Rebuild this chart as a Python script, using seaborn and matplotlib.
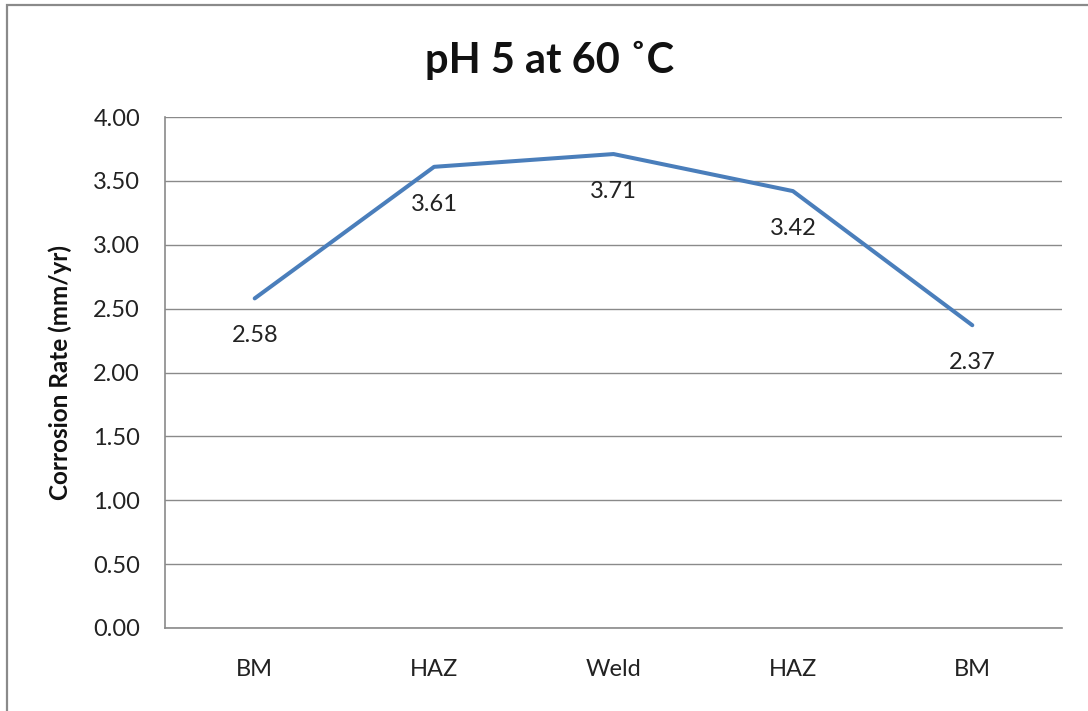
import matplotlib
matplotlib.use("Agg")
import matplotlib.pyplot as plt
import seaborn as sns
import numpy as np
from matplotlib.patches import Rectangle

categories = ["BM", "HAZ", "Weld", "HAZ", "BM"]
values = [2.58, 3.61, 3.71, 3.42, 2.37]
value_labels = ["2.58", "3.61", "3.71", "3.42", "2.37"]
yticks = [0.0, 0.5, 1.0, 1.5, 2.0, 2.5, 3.0, 3.5, 4.0]
title = "pH 5 at 60 ˚C"
ylabel = "Corrosion Rate (mm/yr)"

sns.set_theme(style="white")
plt.rcParams["font.family"] = ["Lato", "DejaVu Sans"]

fig = plt.figure(figsize=(10.88, 7.11), dpi=100)
ax = fig.add_axes([165/1088, 1-628/711, (1062-165)/1088, (628-117)/711])

pos = np.arange(len(categories))
sns.lineplot(x=pos, y=values, ax=ax, color="#4A7EBB", linewidth=2.9,
             solid_capstyle="round", solid_joinstyle="round", zorder=3)

for x, v, lab in zip(pos, values, value_labels):
    ax.annotate(lab, (x, v), xytext=(0, -27), textcoords="offset points",
                ha="center", va="center", fontsize=17, color="#222222")

ax.set_xlim(-0.5, len(categories) - 0.5)
ax.set_ylim(0, 4)
ax.set_yticks(yticks)
ax.set_yticklabels([f"{t:.2f}" for t in yticks], fontsize=17, color="#222222")
ax.set_xticks(pos)
ax.set_xticklabels(categories, fontsize=17, color="#222222")
ax.tick_params(axis="both", length=0)
ax.tick_params(axis="x", pad=22)
ax.tick_params(axis="y", pad=18)
ax.yaxis.grid(True, color="#8a8a8a", linewidth=1.0)
ax.set_axisbelow(True)
for side in ["top", "right"]:
    ax.spines[side].set_visible(False)
for side in ["left", "bottom"]:
    ax.spines[side].set_color("#8a8a8a")
    ax.spines[side].set_linewidth(1.2)

ax.set_ylabel(ylabel, fontsize=17.5, fontweight="bold", labelpad=15, color="#111111")
fig.text(550/1088, 1-60/711, title, ha="center", va="center",
         fontsize=30, fontweight="bold", color="#111111")

fig.patches.append(Rectangle((7/1088, -0.1), 1.2, 1.1 - 5/711, transform=fig.transFigure,
                             fill=False, edgecolor="#8a8a8a", linewidth=1.6, zorder=0))

fig.savefig("out.png", dpi=100)
